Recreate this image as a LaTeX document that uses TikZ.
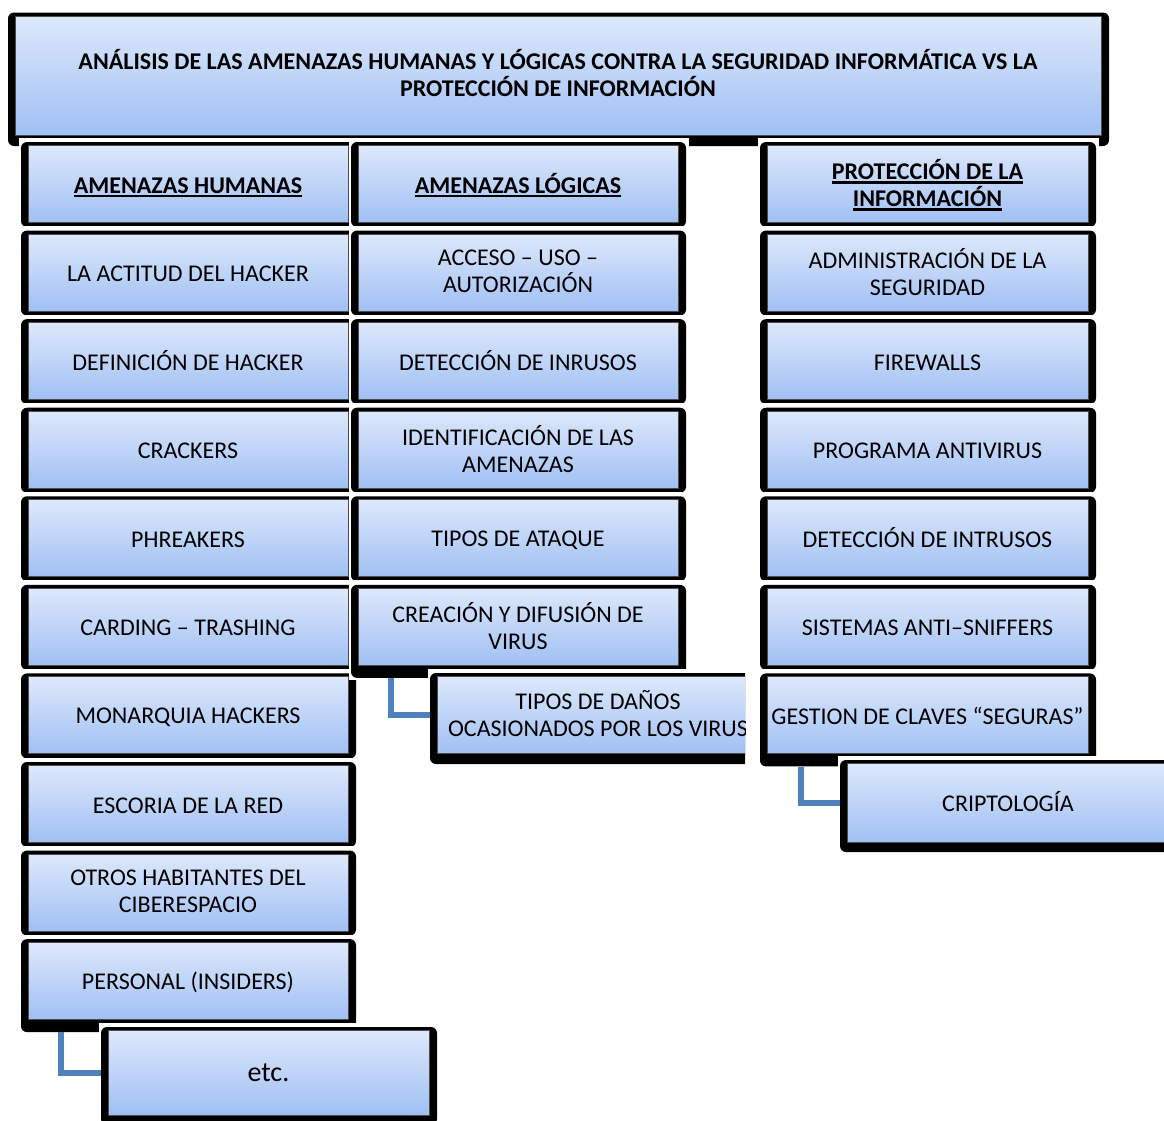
\documentclass[tikz,border=0pt]{standalone}
\usepackage{fontspec}
\setmainfont{Carlito}
\definecolor{gtop}{RGB}{221,232,251}
\definecolor{gbot}{RGB}{160,192,244}
\definecolor{link}{RGB}{79,129,189}
% underlined heading line (the rule adds no depth)
\newsavebox\hdbox
\newcommand\hdul[1]{\sbox\hdbox{#1}%
  \raisebox{0pt}[0pt][0pt]{\rlap{\vrule width\wd\hdbox height -1.8pt depth 4.1pt}}%
  \usebox\hdbox}
\tikzset{
  box/.style={draw=black!70, line width=0.9pt, top color=gtop, bottom color=gbot,
    inner sep=0pt, align=center, font=\fontsize{24}{27}\selectfont,
    execute at begin node={\rule{0pt}{20pt}},
    execute at end node={\rule[-2pt]{0pt}{2pt}}},
  conn/.style={draw=link, line width=6pt},
}
% #1 name, #2 left, #3 top, #4 right, #5 bottom (inner face), #6 bottom shadow, #7 text
\newcommand\panel[7]{%
  \pgfmathsetmacro\bxL{#2}\pgfmathsetmacro\bxT{#3}%
  \pgfmathsetmacro\bxR{#4}\pgfmathsetmacro\bxB{#5}%
  \fill[white] (\bxL-9.5,\bxT-8) rectangle (\bxR+10.5,\bxB+#6+2.5);
  \fill[black,rounded corners=6pt] (\bxL-7,\bxT-3.5) rectangle (\bxR+8,\bxB+#6);
  \node[box,minimum width={\bxR-\bxL},minimum height={\bxB-\bxT}] (#1)
    at ({(\bxL+\bxR)/2},{(\bxT+\bxB)/2}) {#7};
}
% #1 name, #2 left, #3 right, #4 row, #5 bottom shadow, #6 text
\newcommand\cell[6]{\panel{#1}{#2}{142+88.57*#4+3.5}{#3}{142+88.57*#4+80.5}{#5}{#6}}
\begin{document}
\begin{tikzpicture}[x=1pt,y=-1pt]
\useasboundingbox (0,0) rectangle (1164,1120);
\clip (0,0) rectangle (1164,1120);

% title
\panel{title}{15}{16}{1101}{135}{11}{%
  \bfseries ANÁLISIS DE LAS AMENAZAS HUMANAS Y LÓGICAS CONTRA LA SEGURIDAD INFORMÁTICA VS LA\\
  \bfseries PROTECCIÓN DE INFORMACIÓN\rule[-6pt]{0pt}{6pt}}

% human threats
\cell{h0}{28}{348}{0}{4.5}{\bfseries\hdul{AMENAZAS HUMANAS}}
\cell{h1}{28}{348}{1}{4.5}{LA ACTITUD DEL HACKER}
\cell{h2}{28}{348}{2}{4.5}{DEFINICIÓN DE HACKER}
\cell{h3}{28}{348}{3}{4.5}{CRACKERS}
\cell{h4}{28}{348}{4}{4.5}{PHREAKERS}
\cell{h5}{28}{348}{5}{4.5}{CARDING – TRASHING}
\cell{h6}{28}{348}{6}{4.5}{MONARQUIA HACKERS}
\cell{h7}{28}{348}{7}{4.5}{ESCORIA DE LA RED}
\cell{h8}{28}{348}{8}{4.5}{OTROS HABITANTES DEL\\CIBERESPACIO}
\cell{h9}{28}{348}{9}{12.5}{PERSONAL (INSIDERS)}

% logical threats
\cell{l0}{358}{678}{0}{4.5}{\bfseries\hdul{AMENAZAS LÓGICAS}}
\cell{l1}{358}{678}{1}{4.5}{ACCESO – USO –\\AUTORIZACIÓN}
\cell{l2}{358}{678}{2}{4.5}{DETECCIÓN DE INRUSOS}
\cell{l3}{358}{678}{3}{4.5}{IDENTIFICACIÓN DE LAS\\AMENAZAS}
\cell{l4}{358}{678}{4}{4.5}{TIPOS DE ATAQUE}
\cell{l5}{358}{678}{5}{12.5}{CREACIÓN Y DIFUSIÓN DE\\VIRUS}
\begin{scope}
  \clip (0,0) rectangle (745,1120);
  \panel{l6}{437}{676.5}{759}{753}{11}{TIPOS DE DAÑOS\\OCASIONADOS POR LOS VIRUS}
\end{scope}

% protection
\cell{p0}{767}{1088}{0}{4.5}{\bfseries\hdul{PROTECCIÓN DE LA}\\\bfseries\hdul{INFORMACIÓN}}
\cell{p1}{767}{1088}{1}{4.5}{ADMINISTRACIÓN DE LA\\SEGURIDAD}
\cell{p2}{767}{1088}{2}{4.5}{FIREWALLS}
\cell{p3}{767}{1088}{3}{4.5}{PROGRAMA ANTIVIRUS}
\cell{p4}{767}{1088}{4}{4.5}{DETECCIÓN DE INTRUSOS}
\cell{p5}{767}{1088}{5}{4.5}{SISTEMAS ANTI–SNIFFERS}
\cell{p6}{767}{1088}{6}{12.5}{GESTION DE CLAVES “SEGURAS”}
\panel{p7}{847}{763.5}{1169}{842}{10}{CRIPTOLOGÍA}

% etc.
\panel{h10}{108}{1030.5}{429}{1115}{10}{\fontsize{28}{30}\selectfont etc.}

% sub-item links
\coordinate (s1) at (391,678);
\coordinate (s2) at (801,767);
\coordinate (s3) at (61,1032);
\draw[conn] (s1) |- ([xshift=-7pt]l6.west);
\draw[conn] (s2) |- ([xshift=-7pt]p7.west);
\draw[conn] (s3) |- ([xshift=-7pt]h10.west);
\end{tikzpicture}
\end{document}
